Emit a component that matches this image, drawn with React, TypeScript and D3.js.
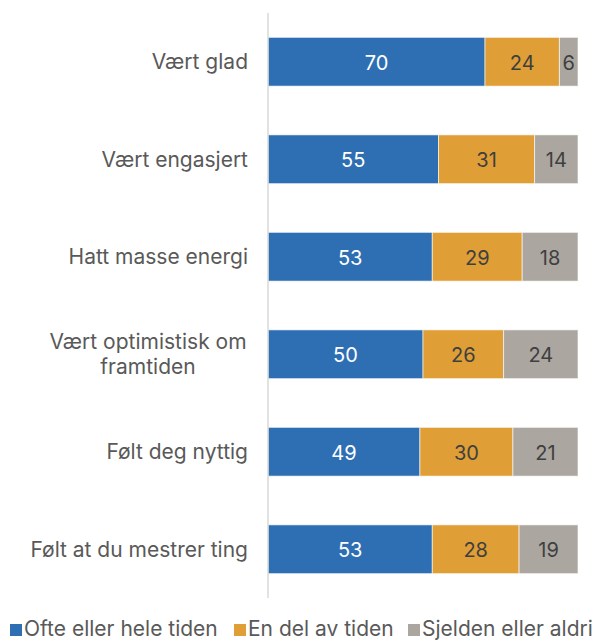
import React from "react";
import * as d3 from "d3";

const categories = [
  "Vært glad",
  "Vært engasjert",
  "Hatt masse energi",
  "Vært optimistisk om framtiden",
  "Følt deg nyttig",
  "Følt at du mestrer ting",
];
const categoryLines: string[][] = [
  ["Vært glad"],
  ["Vært engasjert"],
  ["Hatt masse energi"],
  ["Vært optimistisk om", "framtiden"],
  ["Følt deg nyttig"],
  ["Følt at du mestrer ting"],
];
const seriesNames = ["Ofte eller hele tiden", "En del av tiden", "Sjelden eller aldri"];
const ofte = [70, 55, 53, 50, 49, 53];
const enDel = [24, 31, 29, 26, 30, 28];
const sjelden = [6, 14, 18, 24, 21, 19];
const colors = ["#2E6FB4", "#E09E36", "#ABA69F"];
const labelColors = ["#ffffff", "#3f3f3f", "#3f3f3f"];

const W = 599;
const H = 641;
const FONT = "Inter, 'Noto Sans', sans-serif";

export default function App() {
  const x = d3.scaleLinear().domain([0, 100]).range([268, 578]);
  const y = d3
    .scaleBand<string>()
    .domain(categories)
    .range([13, 598])
    .paddingInner(0.5)
    .paddingOuter(0.25);
  const table = categories.map((c, i) => ({ cat: c, s0: ofte[i], s1: enDel[i], s2: sjelden[i] }));
  const stack = d3.stack<any>().keys(["s0", "s1", "s2"]);
  const series = stack(table);

  const legendItems = [
    { x: 10, name: seriesNames[0], color: colors[0] },
    { x: 234, name: seriesNames[1], color: colors[1] },
    { x: 408, name: seriesNames[2], color: colors[2] },
  ];

  return (
    <svg
      width={W}
      height={H}
      style={{ position: "absolute", left: 0, top: 0, background: "#fff" }}
      fontFamily={FONT}
    >
      {series.map((s, si) =>
        s.map((d, i) => {
          const x0 = x(d[0]);
          const x1 = x(d[1]);
          const yy = y(categories[i])!;
          return (
            <g key={`${si}-${i}`}>
              <rect
                x={x0}
                y={yy}
                width={x1 - x0}
                height={y.bandwidth()}
                fill={colors[si]}
                stroke="#ffffff"
                strokeOpacity={0.6}
                strokeWidth={1}
              />
              <text
                x={(x0 + x1) / 2}
                y={yy + y.bandwidth() / 2 + 1}
                textAnchor="middle"
                dominantBaseline="central"
                fontSize={20}
                fill={labelColors[si]}
              >
                {d[1] - d[0]}
              </text>
            </g>
          );
        })
      )}
      <line x1={268} x2={268} y1={13} y2={598} stroke="#d9d9d9" strokeWidth={1.5} />
      {categories.map((c, i) => {
        const lines = categoryLines[i];
        const cy = y(c)! + y.bandwidth() / 2;
        const lh = 25;
        const start = cy - ((lines.length - 1) * lh) / 2;
        return (
          <text key={c} fontSize={21} fill="#595959">
            {lines.map((l, li) => (
              <tspan
                key={li}
                x={lines.length > 1 ? 148 : 248}
                textAnchor={lines.length > 1 ? "middle" : "end"}
                y={start + li * lh}
                dominantBaseline="central"
              >
                {l}
              </tspan>
            ))}
          </text>
        );
      })}
      {legendItems.map((it) => (
        <g key={it.name}>
          <rect x={it.x} y={624} width={12} height={12} fill={it.color} />
          <text x={it.x + 14} y={628} dominantBaseline="central" fontSize={21} fill="#595959">
            {it.name}
          </text>
        </g>
      ))}
    </svg>
  );
}
